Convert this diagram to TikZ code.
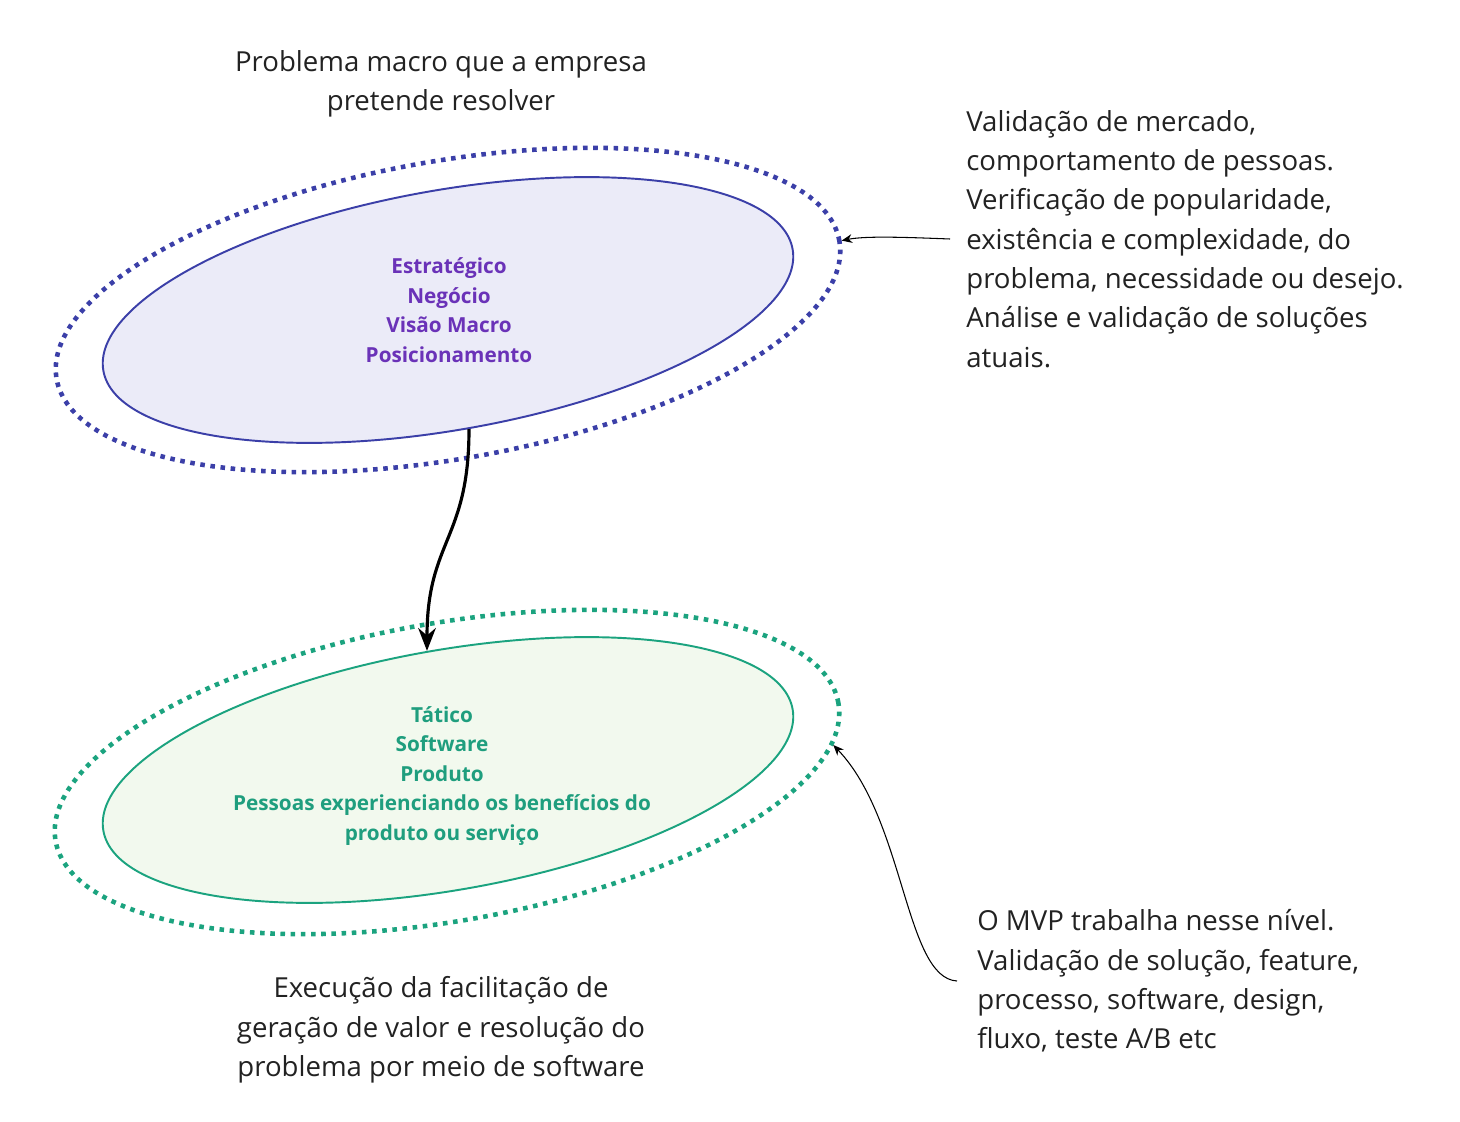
\documentclass[tikz,border=0pt]{standalone}
\usepackage{fontspec}
\setmainfont{Open Sans}
\usepackage{tikz}
\usetikzlibrary{shapes.geometric, arrows.meta, positioning}

\definecolor{stratline}{HTML}{3B3FA8}
\definecolor{stratfill}{HTML}{EBEBF8}
\definecolor{strattext}{HTML}{6A32B8}
\definecolor{taticline}{HTML}{1BA37F}
\definecolor{taticfill}{HTML}{F2F9EE}
\definecolor{tatictext}{HTML}{1F9E7E}
\definecolor{notetext}{HTML}{222222}

\begin{document}
\begin{tikzpicture}[x=0.02cm, y=-0.02cm,
    inner/.style={ellipse, draw, line width=1.1pt, rotate=10, minimum width=14cm, minimum height=4.8cm},
    outer/.style={ellipse, draw, line width=2.6pt, dash pattern=on 2.6pt off 3.2pt, rotate=10, minimum width=15.9cm, minimum height=5.96cm},
    level/.style={align=center, font=\bfseries\fontsize{11.8}{16.8}\selectfont},
    note/.style={align=left, text=notetext, font=\fontsize{15.7}{22.4}\selectfont},
    caption/.style={align=center, text=notetext, font=\fontsize{15.7}{22.4}\selectfont},
    bigarrow/.style={-{Stealth[length=13pt, width=10pt]}, line width=1.8pt},
    thinarrow/.style={-{Stealth[length=6pt, width=5pt]}, line width=0.6pt}
]
\useasboundingbox (0,0) rectangle (1460,1122);

% strategic level
\node[outer, draw=stratline] (outerA) at (448,310) {};
\node[inner, draw=stratline, fill=stratfill] (strat) at (448,310) {};
\node[level, text=strattext] (stratText) at (449,310) {Estratégico\\Negócio\\Visão Macro\\Posicionamento};

% tactical level
\node[outer, draw=taticline] (outerB) at (447,772) {};
\node[inner, draw=taticline, fill=taticfill] (tatic) at (448,770) {};
\node[level, text=tatictext] (taticText) at (442,776) {Tático\\Software\\Produto\\Pessoas experienciando os benefícios do\\produto ou serviço};

% captions and notes
\node[caption] (topCap) at (441,84) {Problema macro que a empresa\\pretende resolver};
\node[caption] (botCap) at (441,1030) {Execução da facilitação de\\geração de valor e resolução do\\problema por meio de software};
\node[note, anchor=west, inner sep=0.32cm] (valid) at (950,239) {Validação de mercado,\\comportamento de pessoas.\\Verificação de popularidade,\\existência e complexidade, do\\problema, necessidade ou desejo.\\Análise e validação de soluções\\atuais.};
\node[note, anchor=west, inner sep=0.4cm] (mvp) at (957,981) {O MVP trabalha nesse nível.\\Validação de solução, feature,\\processo, software, design,\\fluxo, teste A/B etc};

\draw[bigarrow] (strat.south) .. controls (469,540) and (427,540) .. (tatic.north);
\draw[thinarrow] (valid.west) .. controls (900,237) and (865,236) .. (outerA.east);
\draw[thinarrow] (mvp.west) .. controls (905,978) and (905,820) .. (outerB.-6);
\end{tikzpicture}
\end{document}
